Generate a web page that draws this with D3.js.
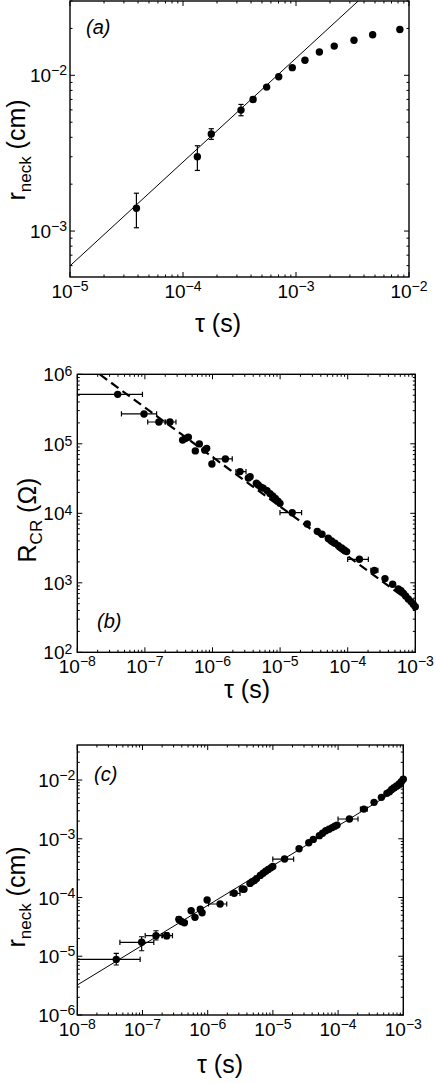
<!DOCTYPE html>
<html>
<head>
<meta charset="utf-8">
<script src="https://cdn.jsdelivr.net/npm/d3@7"></script>
<style>
  html, body { margin: 0; padding: 0; background: #fff; }
  svg { display: block; font-family: "Liberation Sans", Arial, Helvetica, sans-serif; }
</style>
</head>
<body>
<svg id="chart" width="436" height="1083"></svg>
<script>
// ---- panel (a): neck radius vs time, long times ----
const aTau   = [3.87e-5, 1.34e-4, 1.78e-4, 3.26e-4, 4.17e-4, 5.5e-4, 7.03e-4, 9.27e-4, 1.2e-3, 1.61e-3, 2.18e-3, 3.26e-3, 4.77e-3, 8.3e-3];
const aR     = [1.4e-3, 3.0e-3, 4.2e-3, 5.98e-3, 7.0e-3, 8.4e-3, 9.8e-3, 1.12e-2, 1.25e-2, 1.41e-2, 1.54e-2, 1.68e-2, 1.82e-2, 1.97e-2];
const aRLow  = [1.05e-3, 2.45e-3, 3.88e-3, 5.5e-3, 6.75e-3, null, null, null, null, null, null, null, null, null];
const aRHigh = [1.75e-3, 3.53e-3, 4.54e-3, 6.5e-3, 7.25e-3, null, null, null, null, null, null, null, null, null];
const aFitTau = [1e-5, 1e-2];
const aFitR   = [5.98e-4, 5.98e-2];

// ---- panels (b) and (c): same time points ----
const bcTau = [3.96e-8, 9.7e-8, 1.61e-7, 2.35e-7, 3.61e-7, 3.96e-7, 4.39e-7, 5.57e-7, 6.38e-7, 7.7e-7,
  8.2e-7, 9.8e-7, 1.55e-6, 2.55e-6, 3.39e-6, 3.6e-6, 4.45e-6, 4.75e-6, 5.2e-6, 5.62e-6,
  6.4e-6, 7.08e-6, 7.76e-6, 8.5e-6, 9.3e-6, 9.95e-6, 1.51e-5, 2.52e-5, 3.55e-5, 4.16e-5,
  5.16e-5, 5.78e-5, 6.48e-5, 7.26e-5, 8.13e-5, 8.9e-5, 9.64e-5, 1.49e-4, 2.48e-4, 3.56e-4,
  4.62e-4, 5.61e-4, 6.14e-4, 6.64e-4, 7.19e-4, 7.87e-4, 8.62e-4, 9.33e-4, 1.0e-3];
const bcTauLow  = [5e-9, 4.5e-8, 1.1e-7, 2.03e-7, null, null, null, null, null, null,
  null, null, 1.03e-6, 2.22e-6, null, null, null, null, null, null,
  null, null, null, null, null, null, 9.96e-6, null, null, null,
  null, null, null, null, null, null, null, 9.98e-5, 2.2e-4, null,
  null, null, null, null, null, null, null, null, null];
const bcTauHigh = [9.2e-8, 1.49e-7, 1.98e-7, 2.88e-7, null, null, null, null, null, null,
  null, null, 1.96e-6, 3.13e-6, null, null, null, null, null, null,
  null, null, null, null, null, null, 2.08e-5, null, null, null,
  null, null, null, null, null, null, null, 2.02e-4, 2.8e-4, null,
  null, null, null, null, null, null, null, null, null];

const bR = [5.15e5, 2.69e5, 2.06e5, 2.06e5, 1.13e5, 1.19e5, 1.24e5, 7.9e4, 9.96e4, 8.1e4,
  8.6e4, 5.13e4, 6.05e4, 3.98e4, 3.22e4, 3.35e4, 2.7e4, 2.55e4, 2.37e4, 2.3e4,
  2.12e4, 1.92e4, 1.78e4, 1.63e4, 1.49e4, 1.39e4, 1.02e4, 7.03e3, 5.5e3, 4.99e3,
  4.37e3, 4.0e3, 3.7e3, 3.43e3, 3.17e3, 2.97e3, 2.81e3, 2.18e3, 1.51e3, 1.15e3,
  951, 815, 771, 706, 647, 585, 536, 491, 454];
const bFitTau = [1e-8, 1e-3];
const bFitR   = [1.72e6, 470];

const cR = [8.85e-6, 1.73e-5, 2.24e-5, 2.24e-5, 4.25e-5, 3.9e-5, 3.73e-5, 5.97e-5, 4.6e-5, 6.3e-5,
  5.5e-5, 9.06e-5, 7.75e-5, 1.18e-4, 1.4e-4, 1.38e-4, 1.74e-4, 1.85e-4, 1.94e-4, 2.1e-4,
  2.38e-4, 2.6e-4, 2.8e-4, 3.0e-4, 3.2e-4, 3.39e-4, 4.52e-4, 6.78e-4, 8.57e-4, 9.77e-4,
  1.13e-3, 1.24e-3, 1.37e-3, 1.45e-3, 1.55e-3, 1.63e-3, 1.71e-3, 2.17e-3, 3.2e-3, 4.17e-3,
  5.07e-3, 5.93e-3, 6.3e-3, 6.9e-3, 7.4e-3, 7.9e-3, 8.55e-3, 9.37e-3, 1.03e-2];
const cRLow  = [7.1e-6, 1.24e-5, 1.89e-5, 2.0e-5, 3.8e-5, null, null, null, null, null,
  null, null, null, null, null, null, null, null, null, null,
  null, null, null, null, null, null, null, null, null, null,
  null, null, null, null, null, null, null, null, null, null,
  null, null, null, null, null, null, null, null, 9.4e-3];
const cRHigh = [1.12e-5, 2.15e-5, 2.72e-5, 2.5e-5, 4.7e-5, null, null, null, null, null,
  null, null, null, null, null, null, null, null, null, null,
  null, null, null, null, null, null, null, null, null, null,
  null, null, null, null, null, null, null, null, null, null,
  null, null, null, null, null, null, null, null, 1.12e-2];
const cFitTau = [1e-8, 1e-3];
const cFitR   = [3.24e-6, 7.9e-3];

// tick labels (decades)
const aXTicks = [1e-5, 1e-4, 1e-3, 1e-2];
const aYTicks = [1e-3, 1e-2];
const bcXTicks = [1e-8, 1e-7, 1e-6, 1e-5, 1e-4, 1e-3];
const bYTicks = [1e2, 1e3, 1e4, 1e5, 1e6];
const cYTicks = [1e-6, 1e-5, 1e-4, 1e-3, 1e-2];

const svg = d3.select('#chart');

function logTicks(domain) {
  const lo = Math.floor(Math.log10(domain[0]) - 1e-9);
  const hi = Math.ceil(Math.log10(domain[1]) + 1e-9);
  const out = [];
  for (let d = lo; d <= hi; d++) {
    for (let k = 1; k <= 9; k++) {
      const v = k * Math.pow(10, d);
      if (v >= domain[0] * 0.9999 && v <= domain[1] * 1.0001) out.push({ v: v, major: k === 1 });
    }
  }
  return out;
}

function powLabel(g, x, y, value, anchor, supDy) {
  const e = Math.round(Math.log10(value));
  const t = g.append('text')
    .attr('x', x).attr('y', y)
    .attr('text-anchor', anchor)
    .style('font-size', '19px');
  t.append('tspan').text('10');
  t.append('tspan').attr('dy', supDy).style('font-size', '14px')
    .text(e < 0 ? '\u2212' + (-e) : String(e));
}

function drawPanel(p) {
  const x = d3.scaleLog().domain(p.xDomain).range(p.xRange);
  const y = d3.scaleLog().domain(p.yDomain).range(p.yRange);
  const g = svg.append('g');
  const [x0, x1] = p.xRange, [y0, y1] = p.yRange; // y0 bottom, y1 top

  const clipId = 'clip-' + p.id;
  g.append('clipPath').attr('id', clipId)
    .append('rect').attr('x', x0).attr('y', y1).attr('width', x1 - x0).attr('height', y0 - y1);

  // inward ticks on all four sides
  const tg = g.append('g').attr('stroke', '#000').attr('stroke-width', 1);
  logTicks(p.xDomain).forEach(t => {
    const L = t.major ? 5 : 2.5, px = x(t.v);
    tg.append('line').attr('x1', px).attr('x2', px).attr('y1', y0).attr('y2', y0 - L);
    tg.append('line').attr('x1', px).attr('x2', px).attr('y1', y1).attr('y2', y1 + L);
  });
  logTicks(p.yDomain).forEach(t => {
    const L = t.major ? 5 : 2.5, py = y(t.v);
    tg.append('line').attr('y1', py).attr('y2', py).attr('x1', x0).attr('x2', x0 + L);
    tg.append('line').attr('y1', py).attr('y2', py).attr('x1', x1).attr('x2', x1 - L);
  });

  // fit line
  const fit = d3.line().x(d => x(d[0])).y(d => y(d[1]));
  g.append('path')
    .datum(d3.zip(p.fitTau, p.fitR))
    .attr('clip-path', 'url(#' + clipId + ')')
    .attr('fill', 'none').attr('stroke', '#000')
    .attr('stroke-width', p.fitWidth)
    .attr('stroke-dasharray', p.fitDash || null)
    .attr('d', fit);

  // error bars
  const eg = g.append('g').attr('clip-path', 'url(#' + clipId + ')')
    .attr('stroke', '#000').attr('stroke-width', 1.2).attr('fill', 'none');
  const cap = 2.6;
  p.tau.forEach((t, i) => {
    if (p.xLow && p.xLow[i] != null) {
      const a = x(p.xLow[i]), b = x(p.xHigh[i]), py = y(p.val[i]);
      eg.append('line').attr('x1', a).attr('x2', b).attr('y1', py).attr('y2', py);
      eg.append('line').attr('x1', a).attr('x2', a).attr('y1', py - cap).attr('y2', py + cap);
      eg.append('line').attr('x1', b).attr('x2', b).attr('y1', py - cap).attr('y2', py + cap);
    }
    if (p.yLow && p.yLow[i] != null) {
      const a = y(p.yLow[i]), b = y(p.yHigh[i]), px = x(t);
      eg.append('line').attr('x1', px).attr('x2', px).attr('y1', a).attr('y2', b);
      eg.append('line').attr('y1', a).attr('y2', a).attr('x1', px - cap).attr('x2', px + cap);
      eg.append('line').attr('y1', b).attr('y2', b).attr('x1', px - cap).attr('x2', px + cap);
    }
  });

  // points
  g.append('g').selectAll('circle')
    .data(d3.zip(p.tau, p.val))
    .join('circle')
    .attr('cx', d => x(d[0])).attr('cy', d => y(d[1]))
    .attr('r', 3.7).attr('fill', '#000');

  // frame
  g.append('rect')
    .attr('x', x0).attr('y', y1).attr('width', x1 - x0).attr('height', y0 - y1)
    .attr('fill', 'none').attr('stroke', '#000').attr('stroke-width', 1.4);

  // tick labels
  p.xTicks.forEach(v => powLabel(g, x(v), y0 + p.xLabelOff, v, 'middle', -7));
  p.yTicks.forEach(v => powLabel(g, x0 - p.yLabelGap, y(v) + 7, v, 'end', p.ySupDy));

  // panel letter
  g.append('text').attr('x', p.tag[1]).attr('y', p.tag[2])
    .style('font-size', '20px').style('font-style', 'italic').text(p.tag[0]);

  // x title
  g.append('text').attr('x', p.xTitle[0]).attr('y', p.xTitle[1])
    .attr('text-anchor', 'middle').style('font-size', '25px').text('\u03c4 (s)');

  // y title, rotated
  const yt = g.append('text')
    .attr('transform', 'translate(' + p.yTitle[0] + ',' + p.yTitle[1] + ') rotate(-90)')
    .attr('text-anchor', 'middle').style('font-size', '25px');
  yt.append('tspan').text(p.yTitle[2]);
  yt.append('tspan').attr('dy', 6).style('font-size', '17px').text(p.yTitle[3]);
  yt.append('tspan').attr('dy', -6).text(p.yTitle[4]);
}

drawPanel({
  id: 'a', xDomain: [1e-5, 1e-2], xRange: [70, 409],
  yDomain: [5.07e-4, 0.0300], yRange: [277, 1],
  tau: aTau, val: aR, yLow: aRLow, yHigh: aRHigh,
  fitTau: aFitTau, fitR: aFitR, fitWidth: 1,
  xTicks: aXTicks, yTicks: aYTicks, xLabelOff: 21, yLabelGap: 3, ySupDy: -7,
  tag: ['(a)', 86, 34], xTitle: [218, 332], yTitle: [25, 150, 'r', 'neck', ' (cm)']
});

drawPanel({
  id: 'b', xDomain: [1e-8, 1e-3], xRange: [77.3, 415.3],
  yDomain: [1e2, 1e6], yRange: [652.3, 374.3],
  tau: bcTau, val: bR, xLow: bcTauLow, xHigh: bcTauHigh,
  fitTau: bFitTau, fitR: bFitR, fitWidth: 2.2, fitDash: '9,5',
  xTicks: bcXTicks, yTicks: bYTicks, xLabelOff: 21, yLabelGap: 5, ySupDy: -5,
  tag: ['(b)', 97, 628], xTitle: [247, 698], yTitle: [36, 520, 'R', 'CR', ' (\u03a9)']
});

drawPanel({
  id: 'c', xDomain: [1e-8, 1e-3], xRange: [77.3, 403.3],
  yDomain: [1e-6, 0.0395], yRange: [1015, 745],
  tau: bcTau, val: cR, xLow: bcTauLow, xHigh: bcTauHigh, yLow: cRLow, yHigh: cRHigh,
  fitTau: cFitTau, fitR: cFitR, fitWidth: 1,
  xTicks: bcXTicks, yTicks: cYTicks, xLabelOff: 21, yLabelGap: 2, ySupDy: -7,
  tag: ['(c)', 94, 781], xTitle: [220, 1073], yTitle: [25, 897, 'r', 'neck', ' (cm)']
});
</script>
</body>
</html>
